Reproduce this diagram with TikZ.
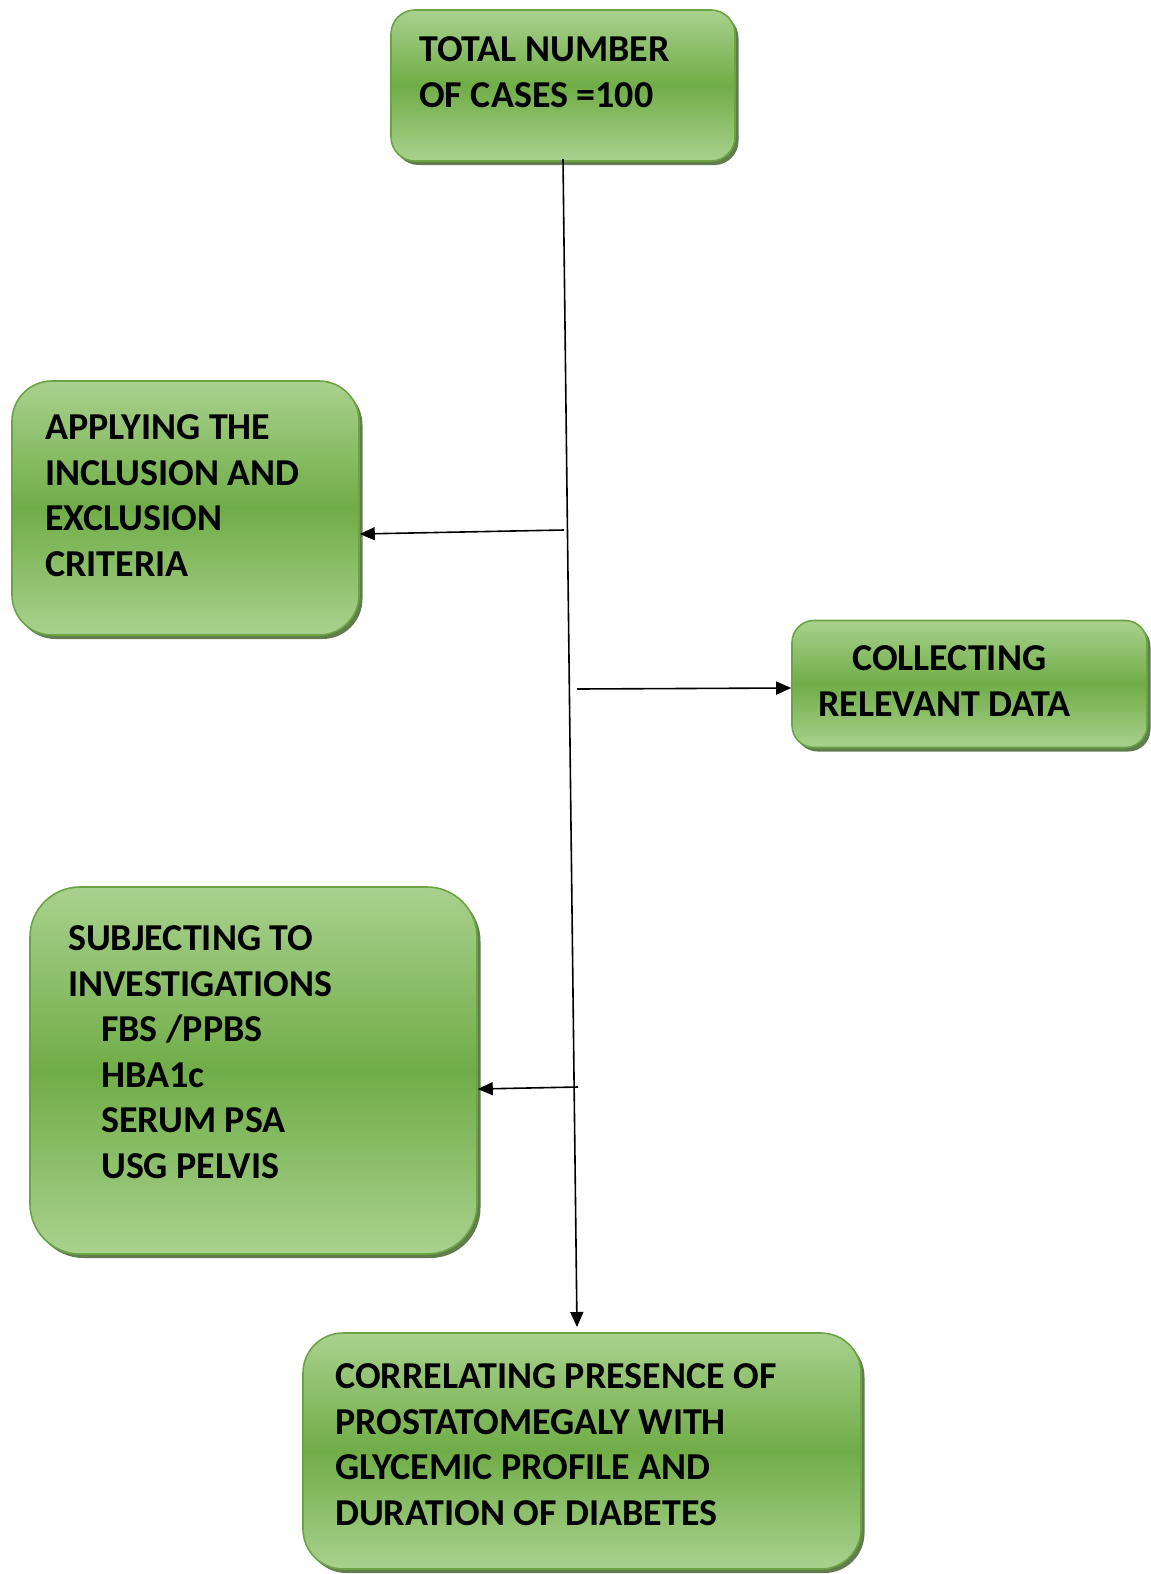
\documentclass[tikz,border=0pt]{standalone}
\usepackage{fontspec}
\setmainfont{Carlito}
\usetikzlibrary{arrows.meta,shadows}
\definecolor{gLight}{HTML}{A9D18E}
\definecolor{gMid}{HTML}{70AD47}
\definecolor{gEdge}{HTML}{6AA443}
\definecolor{gShadow}{HTML}{45662F}
\tikzset{
  greenbox/.style={rectangle, draw=gEdge, line width=1.6pt,
    top color=gLight, bottom color=gLight, middle color=gMid,
    drop shadow={shadow xshift=3.5pt, shadow yshift=-4pt, fill=gShadow, opacity=0.85},
    inner sep=0pt},
  boxtext/.style={anchor=base west, inner sep=0pt, align=left,
    font=\fontsize{38}{45.5}\selectfont\bfseries},
  link/.style={line width=1.6pt, -{Triangle[length=15pt,width=13pt]}}
}
\begin{document}
\begin{tikzpicture}[x=1pt,y=-1pt]
\useasboundingbox (0,0) rectangle (1151,1574);

% boxes
\node[greenbox, rounded corners=24pt, minimum width=344pt, minimum height=151pt] (total) at (563,85.5) {};
\node[greenbox, rounded corners=40pt, minimum width=347pt, minimum height=254pt] (apply) at (185.5,508) {};
\node[greenbox, rounded corners=22pt, minimum width=355pt, minimum height=127pt] (collect) at (969.5,684) {};
\node[greenbox, rounded corners=50pt, minimum width=447pt, minimum height=367pt] (invest) at (253.5,1070.5) {};
\node[greenbox, rounded corners=40pt, minimum width=558pt, minimum height=236pt] (correl) at (582,1451) {};

% texts (anchored at the baseline of their last line)
\node[boxtext] (totalT) at (419,107) {TOTAL NUMBER\\OF CASES =100};
\node[boxtext] (applyT) at (45,576) {APPLYING THE\\INCLUSION AND\\EXCLUSION\\CRITERIA};
\node[boxtext] (collectT) at (818,716) {\hspace{34pt}COLLECTING\\RELEVANT DATA};
\node[boxtext] (investT) at (68,1178) {SUBJECTING TO\\INVESTIGATIONS\\\hspace{33pt}FBS /PPBS\\\hspace{33pt}HBA1c\\\hspace{33pt}SERUM PSA\\\hspace{33pt}USG PELVIS};
\node[boxtext] (correlT) at (335,1525) {CORRELATING PRESENCE OF\\PROSTATOMEGALY WITH\\GLYCEMIC PROFILE AND\\DURATION OF DIABETES};

% connector points
\coordinate (top) at (563,159);
\coordinate (end) at (577,1327);
\coordinate (b1) at (564,530);
\coordinate (b2) at (577,689);
\coordinate (b3) at (578,1087);

% main line and branches
\draw[link] (top) -- (end);
\draw[link] (b1) -- (apply.east |- 0,534);
\draw[link] (b2) -- (collect.west |- 0,688);
\draw[link] (b3) -- (invest.east |- 0,1089);
\end{tikzpicture}
\end{document}
